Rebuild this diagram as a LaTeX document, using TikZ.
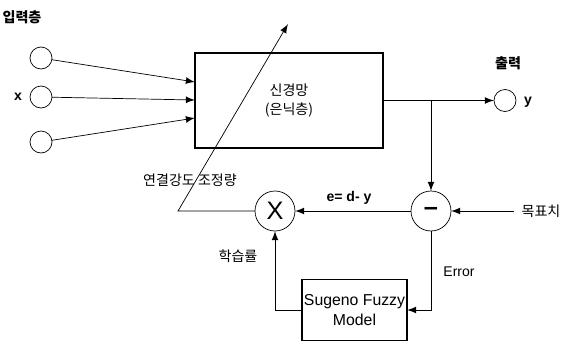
\documentclass[tikz,border=0pt]{standalone}
\usepackage{fontspec}
\setmainfont{Liberation Sans}
\newfontfamily\kor{Noto Sans CJK KR}

\begin{document}
\begin{tikzpicture}[x=0.02cm, y=-0.02cm]
\tikzset{ >=latex, inner sep=0pt, outer sep=0pt, line width=0.8pt, font=\footnotesize,
  unit/.style={draw, circle, minimum size=0.44cm},
  op/.style={draw, circle, minimum size=0.8cm, font=\Large},
  blk/.style={draw, align=center, line width=0.6pt},
}
\useasboundingbox (0,0) rectangle (571,345);

% input layer
\node [unit] (in1) at (41,58)  {};
\node [unit] (in2) at (41,97)  {};
\node [unit] (in3) at (41,142) {};

\node [blk, minimum width=3.76cm, minimum height=1.9cm] (nn) at (289,100.5) {\kor 신경망\\[1pt]\kor (은닉층)};

\coordinate (w1) at (195,82);
\coordinate (w2) at (195,100);
\coordinate (w3) at (195,118);

\draw [->] (in1) -- (w1);
\draw [->] (in2) -- (w2);
\draw [->] (in3) -- (w3);

% output
\node [unit] (y) at (505,100.5) {};
\draw [->] (nn.east) -- (y.west);

% error and weight update
\node [op] (sub) at (431,211) {\textbf{--}};
\node [op] (mul) at (275,211) {X};
\node [blk, minimum width=2.1cm, minimum height=1.22cm, font=\small] (fz) at (354.5,310) {Sugeno Fuzzy\\Model};

\coordinate (br)  at (431,100.5);
\coordinate (tg)  at (514,211);
\coordinate (adj) at (178,211);
\coordinate (tip) at (288,24);

\draw [->] (br) -- (sub.north);
\draw [->] (tg) -- (sub.east);
\draw [->] (sub.west) -- (mul.east);
\draw [->] (sub.south) |- (fz.east);
\draw [->] (fz.west) -| (mul.south);
\draw [->] (mul.west) -- (adj) -- (tip);

% labels
\node at (22,17)   {\kor\bfseries 입력층};
\node at (18,97)   {\bfseries x};
\node at (508,63)  {\kor\bfseries 출력};
\node at (528,102) {\bfseries y};
\node at (190,180) {\kor 연결강도 조정량};
\node at (349,198) {\bfseries e= d- y};
\node at (541,211) {\kor 목표치};
\node at (238,256) {\kor 학습률};
\node at (459,272) {Error};
\end{tikzpicture}
\end{document}
